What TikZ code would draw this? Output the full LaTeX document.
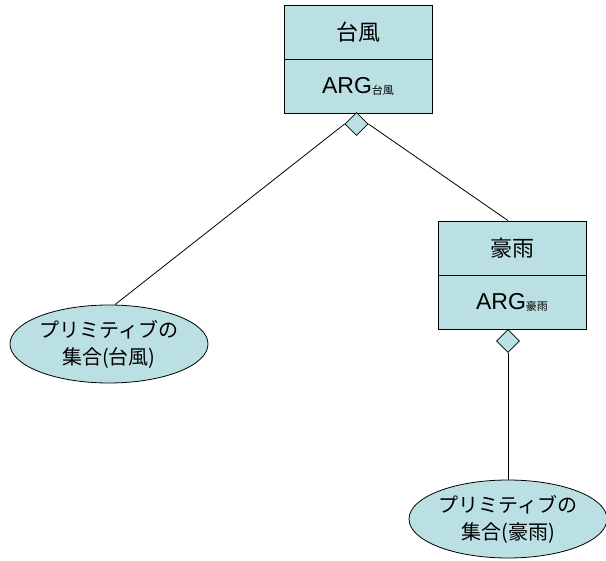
\documentclass[tikz,border=0pt]{standalone}
\usepackage{fontspec}
\setmainfont{Liberation Sans}
\newfontfamily\jp{Noto Sans CJK JP}
\usetikzlibrary{shapes.geometric,positioning}
\definecolor{boxfill}{RGB}{187,224,227}
\newcommand{\argsub}[1]{\fontsize{23}{27}\selectfont ARG\raisebox{-1pt}{\jp\fontsize{11}{12}\selectfont #1}}
\begin{document}
\begin{tikzpicture}[x=1pt,y=-1pt,line width=0.8pt,
  every node/.style={font=\fontsize{20}{27}\selectfont},
  part/.style={draw,fill=boxfill,minimum width=148pt,minimum height=54pt,inner sep=0pt},
  agg/.style={draw,fill=boxfill,diamond,aspect=1,minimum width=23pt,minimum height=23pt,inner sep=0pt},
  prim/.style={draw,fill=boxfill,ellipse,minimum width=198pt,minimum height=78pt,inner sep=0pt,align=center}]
\useasboundingbox (0,0) rectangle (606,561);
% typhoon class
\node[part] (typhoon) at (358,32) {\jp\fontsize{22}{27}\selectfont 台風};
\node[part,below=0pt of typhoon] (typhoonarg) {\argsub{台風}};
\node[agg] (d1) at (356.5,124) {};
% heavy rain class
\node[part] (rain) at (512,248) {\jp\fontsize{22}{27}\selectfont 豪雨};
\node[part,below=0pt of rain] (rainarg) {\argsub{豪雨}};
\node[agg] (d2) at (508,341) {};
% primitive sets
\node[prim] (prim1) at (109,344) {\jp プリミティブの\\\jp 集合(台風)};
\node[prim] (prim2) at (508,519) {\jp プリミティブの\\\jp 集合(豪雨)};
\draw (d1.west) -- (prim1.north -| 115,0);
\draw (d1.east) -- (d2 |- rain.north);
\draw (d2.south) -- (prim2.north);
\end{tikzpicture}
\end{document}
